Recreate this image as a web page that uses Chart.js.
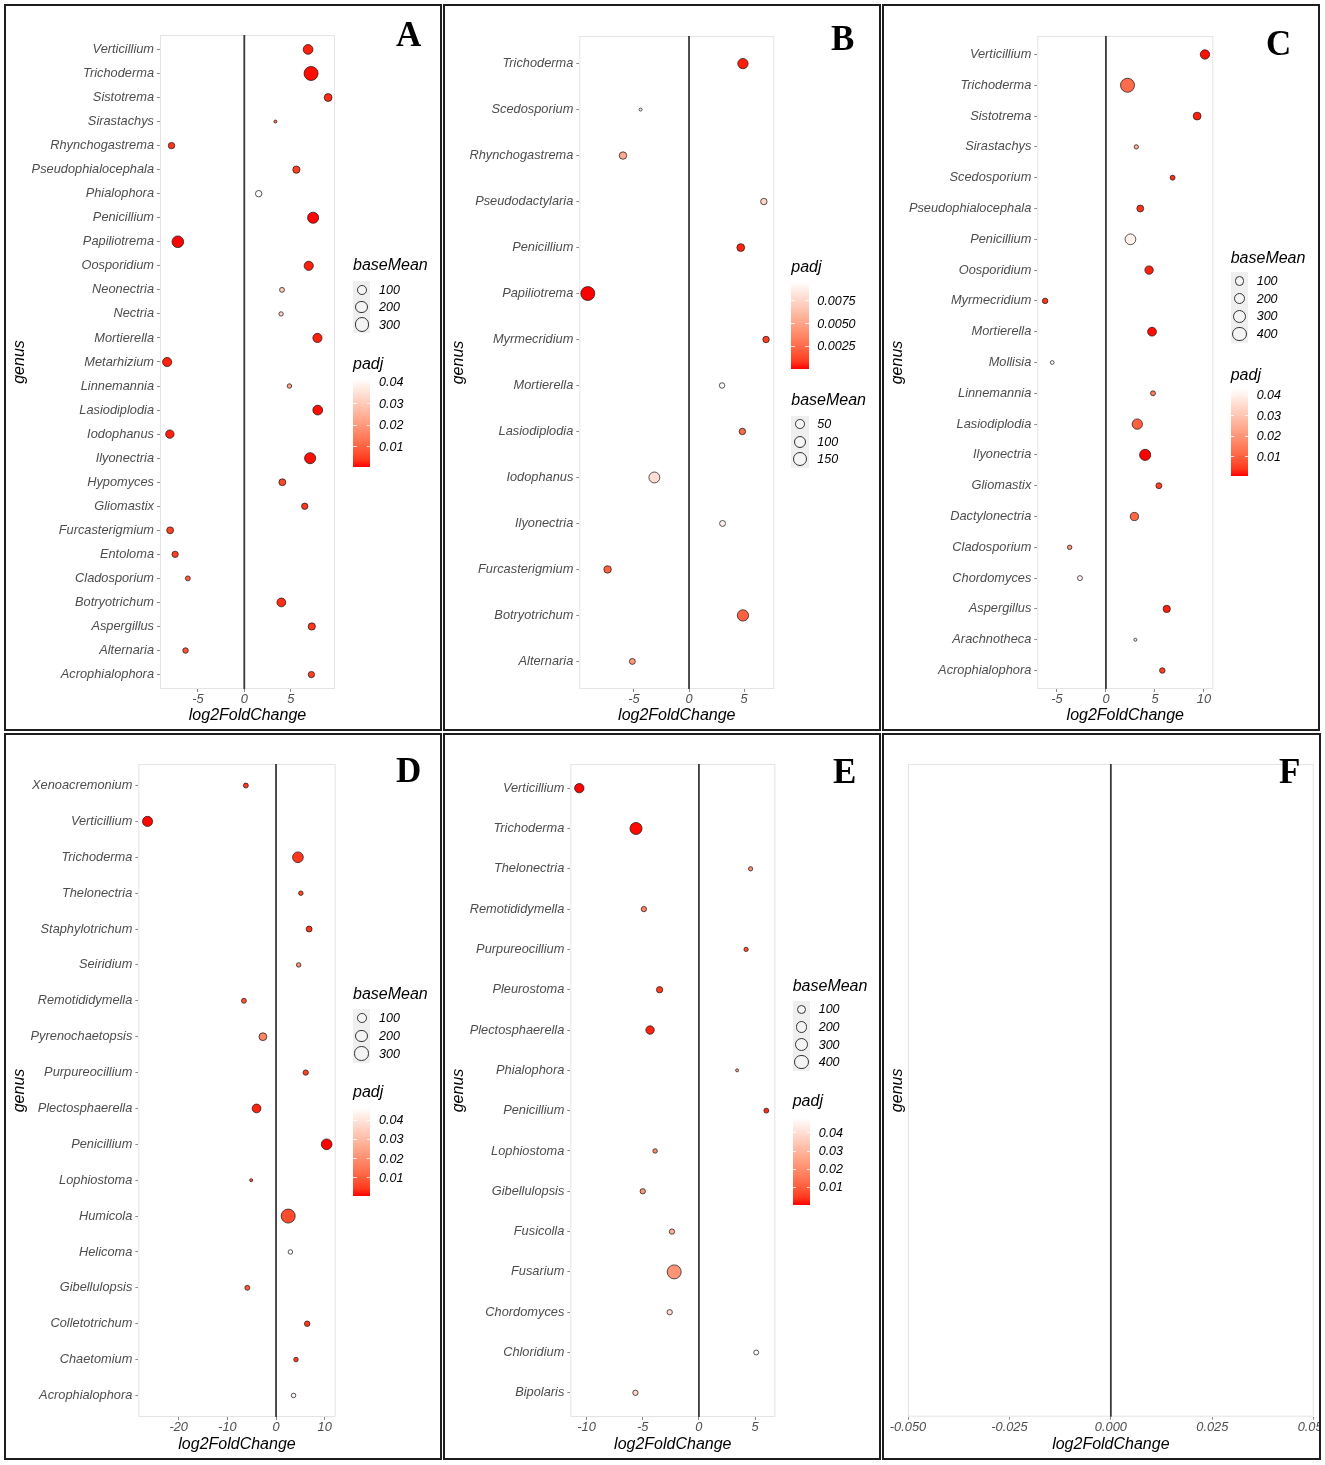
<!DOCTYPE html>
<html>
<head>
<meta charset="utf-8">
<script src="https://cdn.jsdelivr.net/npm/chart.js@4.4.1/dist/chart.umd.min.js"></script>
<style>
  body { margin: 0; background: #fff; }
  #page { position: relative; width: 1325px; height: 1465px; overflow: hidden; background: #fff; }
  .panel { position: absolute; box-sizing: border-box; border: 2px solid #1e1e1e; background: #fff; overflow: hidden; }
  .panel canvas { position: absolute; left: 0; top: 0; }
  .txt { position: absolute; white-space: nowrap; font-family: 'Liberation Sans', Arial, sans-serif; font-style: italic; color: #000; }
  .letter { position: absolute; font-family: 'Liberation Serif', 'Times New Roman', serif; font-weight: bold; font-size: 35px; line-height: 35px; color: #000; }
</style>
</head>
<body>
<div id="page"></div>
<script>
// ---- data ----
const A_genus = ['Verticillium','Trichoderma','Sistotrema','Sirastachys','Rhynchogastrema','Pseudophialocephala','Phialophora','Penicillium','Papiliotrema','Oosporidium','Neonectria','Nectria','Mortierella','Metarhizium','Linnemannia','Lasiodiplodia','Iodophanus','Ilyonectria','Hypomyces','Gliomastix','Furcasterigmium','Entoloma','Cladosporium','Botryotrichum','Aspergillus','Alternaria','Acrophialophora'];
const A_lfc = [6.87, 7.19, 9.03, 3.35, -7.84, 5.61, 1.55, 7.41, -7.16, 6.94, 4.06, 3.96, 7.88, -8.31, 4.86, 7.91, -8.02, 7.09, 4.1, 6.51, -7.99, -7.45, -6.08, 3.99, 7.27, -6.33, 7.23];
const A_baseMean = [124, 326, 63, 1, 33, 49, 33, 177, 203, 103, 11, 6, 103, 103, 7, 124, 79, 177, 41, 30, 41, 30, 11, 91, 49, 18, 30];
const A_padj = [0.002, 0.001, 0.003, 0.012, 0.004, 0.005, 0.0413, 0.0008, 0.00065, 0.002, 0.030, 0.032, 0.002, 0.002, 0.022, 0.001, 0.002, 0.001, 0.006, 0.004, 0.005, 0.005, 0.009, 0.003, 0.004, 0.008, 0.005];
const A_xticks = [-5, 0, 5];
const A_sizeBreaks = [100, 200, 300];
const A_padjBreaks = [0.01, 0.02, 0.03, 0.04];

const B_genus = ['Trichoderma','Scedosporium','Rhynchogastrema','Pseudodactylaria','Penicillium','Papiliotrema','Myrmecridium','Mortierella','Lasiodiplodia','Iodophanus','Ilyonectria','Furcasterigmium','Botryotrichum','Alternaria'];
const B_lfc = [4.9, -4.4, -6.0, 6.8, 4.7, -9.2, 7.0, 3.0, 4.85, -3.15, 3.05, -7.4, 4.9, -5.15];
const B_baseMean = [76, 8, 33, 23, 37, 161, 23, 16, 23, 87, 19, 33, 95, 19];
const B_padj = [0.0003, 0.0085, 0.0055, 0.0075, 0.0004, 0.00002, 0.001, 0.0096, 0.0025, 0.008, 0.009, 0.0022, 0.0022, 0.0045];
const B_xticks = [-5, 0, 5];
const B_sizeBreaks = [50, 100, 150];
const B_padjBreaks = [0.0025, 0.0050, 0.0075];

const C_genus = ['Verticillium','Trichoderma','Sistotrema','Sirastachys','Scedosporium','Pseudophialocephala','Penicillium','Oosporidium','Myrmecridium','Mortierella','Mollisia','Linnemannia','Lasiodiplodia','Ilyonectria','Gliomastix','Dactylonectria','Cladosporium','Chordomyces','Aspergillus','Arachnotheca','Acrophialophora'];
const C_lfc = [10.1, 2.2, 9.3, 3.1, 6.8, 3.5, 2.5, 4.4, -6.2, 4.7, -5.48, 4.8, 3.2, 4.0, 5.4, 2.9, -3.7, -2.65, 6.2, 3.0, 5.75];
const C_baseMean = [142, 420, 82, 8, 15, 53, 208, 103, 24, 118, 4, 15, 188, 229, 31, 96, 10, 15, 64, 2, 24];
const C_padj = [0.001, 0.012, 0.002, 0.025, 0.003, 0.004, 0.040, 0.002, 0.004, 0.001, 0.0429, 0.015, 0.010, 0.0006, 0.005, 0.011, 0.020, 0.041, 0.002, 0.038, 0.005];
const C_xticks = [-5, 0, 5, 10];
const C_sizeBreaks = [100, 200, 300, 400];
const C_padjBreaks = [0.01, 0.02, 0.03, 0.04];

const D_genus = ['Xenoacremonium','Verticillium','Trichoderma','Thelonectria','Staphylotrichum','Seiridium','Remotididymella','Pyrenochaetopsis','Purpureocillium','Plectosphaerella','Penicillium','Lophiostoma','Humicola','Helicoma','Gibellulopsis','Colletotrichum','Chaetomium','Acrophialophora'];
const D_lfc = [-6.2, -26.4, 4.5, 5.1, 6.8, 4.65, -6.6, -2.7, 6.1, -4.0, 10.4, -5.1, 2.5, 2.95, -5.9, 6.4, 4.1, 3.6];
const D_baseMean = [17, 140, 162, 13, 29, 13, 17, 67, 21, 94, 162, 7, 322, 13, 17, 23, 13, 13];
const D_padj = [0.004, 0.0005, 0.004, 0.006, 0.004, 0.020, 0.008, 0.018, 0.005, 0.002, 0.00026, 0.008, 0.007, 0.0463, 0.009, 0.004, 0.005, 0.044];
const D_xticks = [-20, -10, 0, 10];
const D_sizeBreaks = [100, 200, 300];
const D_padjBreaks = [0.01, 0.02, 0.03, 0.04];

const E_genus = ['Verticillium','Trichoderma','Thelonectria','Remotididymella','Purpureocillium','Pleurostoma','Plectosphaerella','Phialophora','Penicillium','Lophiostoma','Gibellulopsis','Fusicolla','Fusarium','Chordomyces','Chloridium','Bipolaris'];
const E_lfc = [-10.65, -5.6, 4.6, -4.9, 4.2, -3.5, -4.35, 3.4, 6.0, -3.9, -5.0, -2.4, -2.2, -2.6, 5.1, -5.65];
const E_baseMean = [147, 293, 11, 24, 11, 43, 107, 5, 18, 13, 24, 24, 429, 24, 18, 24];
const E_padj = [0.0002, 0.0005, 0.020, 0.018, 0.008, 0.005, 0.002, 0.025, 0.003, 0.020, 0.022, 0.028, 0.022, 0.040, 0.0481, 0.038];
const E_xticks = [-10, -5, 0, 5];
const E_sizeBreaks = [100, 200, 300, 400];
const E_padjBreaks = [0.01, 0.02, 0.03, 0.04];

const F_genus = [];
const F_lfc = [];
const F_baseMean = [];
const F_padj = [];
const F_xticks = [-0.05, -0.025, 0, 0.025, 0.05];

// ---- styling / layout ----
const FONT = "'Liberation Sans', Arial, sans-serif";
const R_MIN = 1.5, R_MAX = 7.0;

const PANELS = [
  { letter: 'A', box: [4, 4, 438, 727], plot: [160, 335, 35, 689], letterPos: [396, 17],
    genus: A_genus, lfc: A_lfc, base: A_baseMean, padj: A_padj, xticks: A_xticks, xlim: [-9.08, 9.77],
    sizeBreaks: A_sizeBreaks, padjBreaks: A_padjBreaks, padjDigits: 2,
    legend: { x: 353, size: { titleY: 265, keyTop: 281, keyH: 17.4 }, color: { titleY: 364, top: 379.3, bottom: 466.7 } } },
  { letter: 'B', box: [443, 4, 438, 727], plot: [579.3, 774.3, 36, 689], letterPos: [831, 21],
    genus: B_genus, lfc: B_lfc, base: B_baseMean, padj: B_padj, xticks: B_xticks, xlim: [-9.97, 7.75],
    sizeBreaks: B_sizeBreaks, padjBreaks: B_padjBreaks, padjDigits: 4,
    legend: { x: 791.3, size: { titleY: 399.3, keyTop: 415.5, keyH: 17.5 }, color: { titleY: 266.7, top: 281.7, bottom: 369 } } },
  { letter: 'C', box: [882, 4, 438, 727], plot: [1037.3, 1213.3, 36, 689], letterPos: [1266, 26],
    genus: C_genus, lfc: C_lfc, base: C_baseMean, padj: C_padj, xticks: C_xticks, xlim: [-7.0, 10.95],
    sizeBreaks: C_sizeBreaks, padjBreaks: C_padjBreaks, padjDigits: 2,
    legend: { x: 1230.7, size: { titleY: 257.3, keyTop: 272.2, keyH: 17.65 }, color: { titleY: 374.3, top: 389.3, bottom: 476 } } },
  { letter: 'D', box: [4, 733, 438, 727], plot: [138.3, 335.7, 764, 1417], letterPos: [396, 753],
    genus: D_genus, lfc: D_lfc, base: D_baseMean, padj: D_padj, xticks: D_xticks, xlim: [-28.3, 12.26],
    sizeBreaks: D_sizeBreaks, padjBreaks: D_padjBreaks, padjDigits: 2,
    legend: { x: 353, size: { titleY: 994, keyTop: 1009.2, keyH: 17.8 }, color: { titleY: 1092, top: 1108.3, bottom: 1196.3 } } },
  { letter: 'E', box: [443, 733, 438, 727], plot: [570.3, 775.3, 764, 1417], letterPos: [833, 754],
    genus: E_genus, lfc: E_lfc, base: E_baseMean, padj: E_padj, xticks: E_xticks, xlim: [-11.45, 6.8],
    sizeBreaks: E_sizeBreaks, padjBreaks: E_padjBreaks, padjDigits: 2,
    legend: { x: 792.7, size: { titleY: 985.3, keyTop: 1000.5, keyH: 17.65 }, color: { titleY: 1101, top: 1118.3, bottom: 1205 } } },
  { letter: 'F', box: [882, 733, 439, 727], plot: [908, 1313.7, 764, 1416.7], letterPos: [1279, 754],
    genus: F_genus, lfc: F_lfc, base: F_baseMean, padj: F_padj, xticks: F_xticks, xlim: [-0.05, 0.05], xDigits: 3,
    legend: null }
];

// red -> white gradient interpolated in CIELAB (like ggplot's scale_fill_gradient)
function toLab([r, g, b]) {
  const lin = c => { c /= 255; return c <= 0.04045 ? c / 12.92 : Math.pow((c + 0.055) / 1.055, 2.4); };
  const R = lin(r), G = lin(g), B = lin(b);
  const X = (0.4124 * R + 0.3576 * G + 0.1805 * B) / 0.95047;
  const Y = 0.2126 * R + 0.7152 * G + 0.0722 * B;
  const Z = (0.0193 * R + 0.1192 * G + 0.9505 * B) / 1.08883;
  const f = t => t > 0.008856 ? Math.cbrt(t) : 7.787 * t + 16 / 116;
  return [116 * f(Y) - 16, 500 * (f(X) - f(Y)), 200 * (f(Y) - f(Z))];
}
function fromLab([L, a, b]) {
  const fy = (L + 16) / 116, fx = fy + a / 500, fz = fy - b / 200;
  const inv = t => t * t * t > 0.008856 ? t * t * t : (t - 16 / 116) / 7.787;
  const X = inv(fx) * 0.95047, Y = inv(fy), Z = inv(fz) * 1.08883;
  const R = 3.2406 * X - 1.5372 * Y - 0.4986 * Z;
  const G = -0.9689 * X + 1.8758 * Y + 0.0415 * Z;
  const B = 0.0557 * X - 0.2040 * Y + 1.0570 * Z;
  const gam = c => { c = c <= 0.0031308 ? 12.92 * c : 1.055 * Math.pow(c, 1 / 2.4) - 0.055; return Math.round(Math.min(1, Math.max(0, c)) * 255); };
  return [gam(R), gam(G), gam(B)];
}
const LAB_LOW = toLab([255, 0, 0]), LAB_HIGH = toLab([255, 255, 255]);
function rampColor(t) {
  t = Math.min(1, Math.max(0, t));
  const c = fromLab(LAB_LOW.map((v, i) => v + (LAB_HIGH[i] - v) * t));
  return `rgb(${c[0]},${c[1]},${c[2]})`;
}

const page = document.getElementById('page');

function addText(text, x, yCenter, size, color) {
  const d = document.createElement('div');
  d.className = 'txt';
  d.textContent = text;
  d.style.left = x + 'px';
  d.style.top = (yCenter - size * 0.48) + 'px';
  d.style.fontSize = size + 'px';
  d.style.lineHeight = size + 'px';
  if (color) d.style.color = color;
  page.appendChild(d);
  return d;
}
function addBox(x, y, w, h, css) {
  const d = document.createElement('div');
  d.style.position = 'absolute';
  d.style.left = x + 'px'; d.style.top = y + 'px';
  d.style.width = w + 'px'; d.style.height = h + 'px';
  Object.assign(d.style, css || {});
  page.appendChild(d);
  return d;
}

const framePlugin = {
  id: 'frame',
  beforeDatasetsDraw(chart) {
    const { ctx, chartArea: a, scales: { x } } = chart;
    ctx.save();
    ctx.strokeStyle = '#e4e4e4';
    ctx.lineWidth = 1;
    ctx.strokeRect(a.left + 0.5, a.top + 0.5, a.width - 1, a.height - 1);
    const x0 = x.getPixelForValue(0);
    ctx.strokeStyle = '#3a3a3a';
    ctx.lineWidth = 1.8;
    ctx.beginPath();
    ctx.moveTo(x0, a.top);
    ctx.lineTo(x0, a.bottom);
    ctx.stroke();
    ctx.restore();
  }
};

function buildPanel(p) {
  const [bx, by, bw, bh] = p.box;
  const ix = bx + 2, iy = by + 2, iw = bw - 4, ih = bh - 4;
  const [l, r, t, b] = p.plot;
  const n = p.genus.length;

  const div = document.createElement('div');
  div.className = 'panel';
  Object.assign(div.style, { left: bx + 'px', top: by + 'px', width: bw + 'px', height: bh + 'px' });
  const canvas = document.createElement('canvas');
  canvas.width = iw; canvas.height = ih;
  canvas.style.width = iw + 'px'; canvas.style.height = ih + 'px';
  div.appendChild(canvas);
  page.appendChild(div);

  const bmin = n ? Math.min(...p.base) : 0, bmax = n ? Math.max(...p.base) : 1;
  const pmin = n ? Math.min(...p.padj) : 0, pmax = n ? Math.max(...p.padj) : 1;
  const radius = v => R_MIN + (R_MAX - R_MIN) * Math.sqrt((v - bmin) / (bmax - bmin));
  const color = v => rampColor((v - pmin) / (pmax - pmin));

  const tickFont = { family: FONT, size: 12.8, style: 'italic' };
  const titleFont = { family: FONT, size: 16, style: 'italic' };

  new Chart(canvas.getContext('2d'), {
    type: 'bubble',
    data: {
      datasets: [{
        data: p.genus.map((g, i) => ({ x: p.lfc[i], y: i, r: radius(p.base[i]) })),
        backgroundColor: p.padj.map(color),
        borderColor: 'rgba(25,20,20,0.9)',
        borderWidth: 0.8,
        clip: false
      }]
    },
    options: {
      responsive: false,
      animation: false,
      events: [],
      layout: { padding: { top: t - iy, right: (ix + iw) - r, left: 0, bottom: 0 } },
      plugins: { legend: { display: false }, tooltip: { enabled: false } },
      scales: {
        x: {
          type: 'linear', min: p.xlim[0], max: p.xlim[1],
          afterBuildTicks: s => { s.ticks = p.xticks.map(v => ({ value: v })); },
          afterFit: s => { s.height = (iy + ih) - b; s.paddingLeft = 0; s.paddingRight = 0; },
          ticks: { callback: v => p.xDigits ? v.toFixed(p.xDigits) : String(v), font: tickFont, color: '#4d4d4d', padding: 0, maxRotation: 0, autoSkip: false },
          grid: { drawOnChartArea: false, drawTicks: true, tickLength: 3, color: '#8a8a8a' },
          border: { display: false },
          title: { display: true, text: 'log2FoldChange', font: titleFont, color: '#000', padding: { top: 0, bottom: 4 } }
        },
        y: {
          type: 'linear', reverse: true,
          min: n ? -0.6 : 0, max: n ? n - 0.4 : 1,
          afterBuildTicks: s => { s.ticks = p.genus.map((g, i) => ({ value: i })); },
          afterFit: s => { s.width = l - ix; s.paddingTop = 0; s.paddingBottom = 0; },
          ticks: { display: n > 0, callback: v => p.genus[v], font: tickFont, color: '#4d4d4d', padding: 3, autoSkip: false },
          grid: { drawOnChartArea: false, drawTicks: n > 0, tickLength: 3, color: '#8a8a8a' },
          border: { display: false },
          title: { display: true, text: 'genus', font: titleFont, color: '#000', padding: { top: 4, bottom: 0 } }
        }
      }
    },
    plugins: [framePlugin]
  });

  // panel letter
  const lt = document.createElement('div');
  lt.className = 'letter';
  lt.textContent = p.letter;
  lt.style.left = p.letterPos[0] + 'px';
  lt.style.top = p.letterPos[1] + 'px';
  page.appendChild(lt);

  if (!p.legend) return;
  const lg = p.legend;
  const keyW = 17.4;

  // size legend (baseMean)
  addText('baseMean', lg.x, lg.size.titleY, 16);
  addBox(lg.x, lg.size.keyTop, keyW, lg.size.keyH * p.sizeBreaks.length, { background: '#efefef' });
  p.sizeBreaks.forEach((v, i) => {
    const cy = lg.size.keyTop + lg.size.keyH * (i + 0.5);
    const rr = radius(v) + 0.4;
    addBox(lg.x + keyW / 2 - rr, cy - rr, 2 * rr, 2 * rr, {
      boxSizing: 'border-box', border: '0.8px solid #333', borderRadius: '50%', background: 'rgba(255,255,255,0.35)'
    });
    addText(String(v), lg.x + 26, cy, 12.5);
  });

  // colour bar (padj)
  const c = lg.color;
  addText('padj', lg.x, c.titleY, 16);
  const stops = [];
  for (let k = 0; k <= 12; k++) stops.push(rampColor(k / 12) + ' ' + (k / 12 * 100).toFixed(1) + '%');
  addBox(lg.x, c.top, keyW, c.bottom - c.top, { background: 'linear-gradient(to top, ' + stops.join(', ') + ')' });
  p.padjBreaks.forEach(v => {
    const y = c.bottom - (v - pmin) / (pmax - pmin) * (c.bottom - c.top);
    addBox(lg.x, y - 0.5, 3.5, 1, { background: 'rgba(255,255,255,0.8)' });
    addBox(lg.x + keyW - 3.5, y - 0.5, 3.5, 1, { background: 'rgba(255,255,255,0.8)' });
    addText(v.toFixed(p.padjDigits), lg.x + 26, y, 12.5);
  });
}

PANELS.forEach(buildPanel);
</script>
</body>
</html>
